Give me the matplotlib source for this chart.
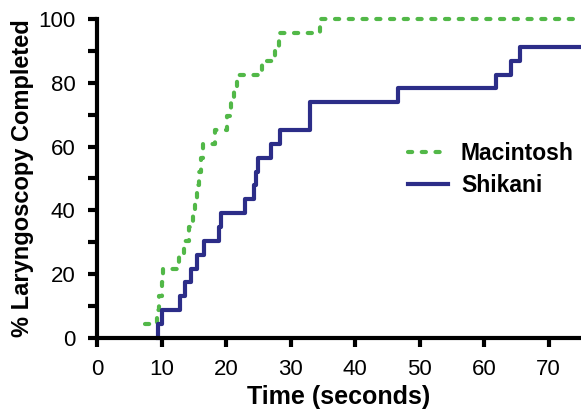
import numpy as np
import matplotlib.pyplot as plt

plt.rcParams['font.family'] = ['Liberation Sans', 'DejaVu Sans']

N_PATIENTS = 23

# time (s) at which each laryngoscopy was completed
mac_times = [7.5, 9.3, 9.6, 10.0, 10.3, 12.7, 13.5, 14.3, 14.8, 15.2, 15.5, 15.8,
             16.1, 16.4, 18.3, 20.2, 20.7, 21.2, 21.7, 25.5, 27.6, 28.2, 34.5]
shik_times = [9.5, 10.0, 12.9, 13.7, 14.5, 15.5, 16.5, 18.9, 19.2, 23.0, 24.3, 24.6,
              24.9, 26.9, 28.4, 33.0, 33.0, 46.7, 61.9, 64.2, 65.5]

x_ticks = [0, 10, 20, 30, 40, 50, 60, 70]
y_ticks = [0, 20, 40, 60, 80, 100]


def km_curve(times, start, end):
    t = np.array([start] + list(times) + [end])
    pct = np.arange(len(times) + 1) / N_PATIENTS * 100
    pct = np.append(pct, pct[-1])
    return t, pct


fig = plt.figure(figsize=(5.81, 4.15), dpi=100)
ax = fig.add_axes([0.167, 0.186, 0.833, 0.768])

t, p = km_curve(mac_times, mac_times[0], 75)
ax.step(t[1:], p[1:], where='post', color='#52b848', lw=3,
        linestyle=(0, (1.0, 2.3)), dash_capstyle='round', clip_on=False,
        label='Macintosh')
t, p = km_curve(shik_times, shik_times[0], 75)
ax.step(t, p, where='post', color='#2c2d88', lw=3, clip_on=False,
        label='Shikani')

ax.set_xlim(0, 75)
ax.set_ylim(0, 100)
ax.set_xticks(x_ticks)
ax.set_yticks(y_ticks)
ax.set_yticks(np.arange(10, 100, 20), minor=True)
ax.tick_params(axis='both', which='major', length=6.5, width=3, labelsize=16,
               direction='out')
ax.tick_params(axis='x', which='major', pad=9)
ax.tick_params(axis='y', which='major', pad=9)
ax.tick_params(axis='y', which='minor', length=6.5, width=3)

for side in ['top', 'right']:
    ax.spines[side].set_visible(False)
for side in ['left', 'bottom']:
    ax.spines[side].set_linewidth(3)

ax.set_xlabel('Time (seconds)', fontsize=18, fontweight='bold', labelpad=3)
ax.set_ylabel('% Laryngoscopy Completed', fontsize=17, fontweight='bold', labelpad=3)

leg = ax.legend(loc='upper right', bbox_to_anchor=(0.99, 0.622), frameon=False,
                prop={'weight': 'bold', 'size': 16.5}, handlelength=1.75,
                handletextpad=0.55, labelspacing=0.4, borderaxespad=0,
                borderpad=0.1)

fig.savefig('out.png', dpi=100)
